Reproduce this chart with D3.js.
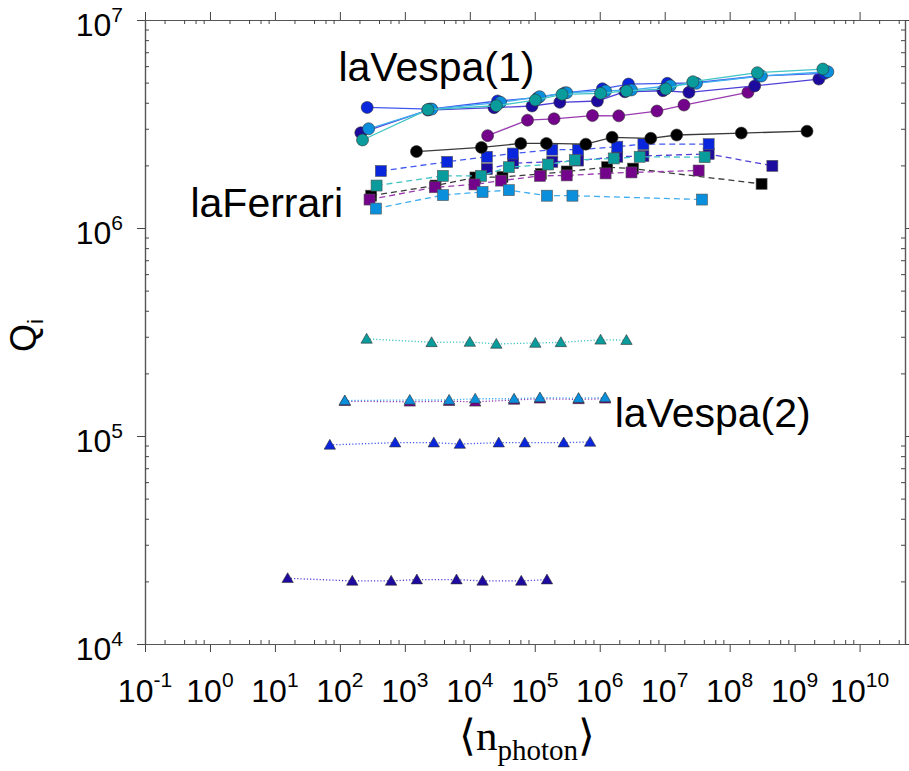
<!DOCTYPE html>
<html>
<head>
<meta charset="utf-8">
<script src="https://cdn.jsdelivr.net/npm/d3@7"></script>
<style>
  body { margin: 0; background: #fff; }
  svg text { font-family: "Liberation Sans", Arial, sans-serif; fill: #000; }
</style>
</head>
<body>
<div id="chart"></div>
<script>
// [<n_photon>, Q_i]
// laVespa(1) - circles, solid
const vespa1Black = [[1510, 2.33e6], [15100, 2.44e6], [60900, 2.55e6], [1.51e5, 2.55e6], [6.1e5, 2.53e6], [1.55e6, 2.73e6], [6.1e6, 2.7e6], [1.53e7, 2.8e6], [1.51e8, 2.86e6], [1.55e9, 2.92e6]];
const vespa1Purple = [[18800, 2.78e6], [77300, 3.3e6], [1.98e5, 3.35e6], [7.73e5, 3.47e6], [1.96e6, 3.46e6], [7.6e6, 3.65e6], [1.98e7, 3.9e6], [1.91e8, 4.49e6]];
const vespa1DarkBlue = [[210, 2.87e6], [2260, 3.69e6], [23600, 3.79e6], [90800, 3.86e6], [2.43e5, 4.02e6], [9.2e5, 4.08e6], [2.43e6, 4.52e6], [9.4e6, 4.57e6], [2.36e7, 4.49e6], [2.43e8, 4.82e6], [2.36e9, 5.2e6]];
const vespa1Blue = [[263, 3.8e6], [2430, 3.73e6], [26700, 4.08e6], [1.12e5, 4.23e6], [2.88e5, 4.46e6], [1.1e6, 4.67e6], [2.77e6, 4.92e6], [1.1e7, 4.96e6], [2.7e7, 4.98e6], [2.8e8, 5.38e6], [2.9e9, 5.54e6]];
const vespa1LightBlue = [[277, 3.0e6], [2600, 3.73e6], [29700, 4.02e6], [1.19e5, 4.28e6], [3.1e5, 4.47e6], [1.23e6, 4.56e6], [3.08e6, 4.61e6], [1.22e7, 4.83e6], [3.08e7, 4.96e6], [3.08e8, 5.38e6], [3.25e9, 5.64e6]];
const vespa1Teal = [[223, 2.65e6], [2260, 3.71e6], [25600, 3.87e6], [1.02e5, 4.12e6], [2.63e5, 4.39e6], [1.03e6, 4.44e6], [2.58e6, 4.56e6], [1.04e7, 4.66e6], [2.72e7, 5.05e6], [2.67e8, 5.58e6], [2.72e9, 5.81e6]];

// laFerrari - squares, dashed
const ferrariDarkBlue = [[18300, 1.92e6], [46400, 2.05e6], [1.86e5, 2.08e6], [4.64e5, 2.11e6], [1.86e6, 2.2e6], [4.7e6, 2.22e6], [4.75e7, 2.27e6], [4.54e8, 1.99e6]];
const ferrariBlack = [[303, 1.43e6], [2970, 1.6e6], [12200, 1.75e6], [31800, 1.76e6], [1.24e5, 1.82e6], [3.1e5, 1.87e6], [1.3e6, 1.96e6], [3.25e6, 1.93e6], [3.1e8, 1.63e6]];
const ferrariBlue = [[427, 1.88e6], [4480, 2.08e6], [18300, 2.2e6], [45900, 2.28e6], [1.86e5, 2.38e6], [4.64e5, 2.38e6], [1.86e6, 2.46e6], [4.7e6, 2.53e6], [4.75e7, 2.53e6]];
const ferrariTeal = [[367, 1.6e6], [3840, 1.78e6], [14900, 1.78e6], [39800, 1.96e6], [1.6e5, 2.02e6], [4.13e5, 2.12e6], [1.64e6, 2.16e6], [4.12e6, 2.2e6], [4.12e7, 2.19e6]];
const ferrariPurple = [[286, 1.37e6], [2890, 1.57e6], [11800, 1.62e6], [30300, 1.69e6], [1.2e5, 1.78e6], [3.1e5, 1.79e6], [1.23e6, 1.83e6], [3.08e6, 1.85e6], [3.33e7, 1.89e6]];
const ferrariLightBlue = [[358, 1.24e6], [3870, 1.44e6], [15700, 1.49e6], [39800, 1.52e6], [1.54e5, 1.43e6], [3.8e5, 1.43e6], [3.75e7, 1.37e6]];

// laVespa(2) - triangles, dotted
const vespa2Teal = [[258, 2.93e5], [2580, 2.82e5], [10000, 2.83e5], [25600, 2.77e5], [1.02e5, 2.8e5], [2.52e5, 2.82e5], [1.03e6, 2.9e5], [2.58e6, 2.89e5]];
const vespa2Purple = [[119, 1.47e5], [1190, 1.46e5], [4800, 1.47e5], [12100, 1.46e5], [48000, 1.49e5], [1.2e5, 1.51e5], [4.72e5, 1.5e5], [1.21e6, 1.51e5]];
const vespa2LightBlue = [[119, 1.48e5], [1190, 1.49e5], [4800, 1.49e5], [12100, 1.51e5], [48000, 1.51e5], [1.2e5, 1.53e5], [4.72e5, 1.52e5], [1.21e6, 1.53e5]];
const vespa2Blue = [[70, 9.06e4], [709, 9.29e4], [2790, 9.29e4], [7020, 9.15e4], [27900, 9.29e4], [70200, 9.29e4], [2.79e5, 9.29e4], [7.1e5, 9.36e4]];
const vespa2DarkBlue = [[15.7, 2.07e4], [155, 2.01e4], [615, 2.01e4], [1530, 2.04e4], [6240, 2.04e4], [15700, 2.01e4], [61900, 2.01e4], [1.54e5, 2.04e4]];

const xExponents = [-1, 0, 1, 2, 3, 4, 5, 6, 7, 8, 9, 10];
const yExponents = [4, 5, 6, 7];
const annotations = [
    { text: 'laVespa(1)', n: 95, q: 5.1e6, anchor: 'start' },
    { text: 'laFerrari', n: 112, q: 1.13e6, anchor: 'end' },
    { text: 'laVespa(2)', n: 1.7e6, q: 1.1e5, anchor: 'start' }
];

const colors = {
    black:     { fill: '#000000', line: '#3a3a3a' },
    purple:    { fill: '#74038c', line: '#9a3ab0' },
    darkblue:  { fill: '#1d0a9e', line: '#5040d8' },
    blue:      { fill: '#0a26dc', line: '#4058f0' },
    lightblue: { fill: '#0a8fdc', line: '#40aef0' },
    teal:      { fill: '#0a9c9c', line: '#40c4c4' }
};

// draw order matters, later ones sit on top
const series = [
    { data: vespa2Teal, color: 'teal', marker: 'triangle', dash: '1.2,2' },
    { data: vespa2Purple, color: 'purple', marker: 'triangle', dash: '1.2,2' },
    { data: vespa2LightBlue, color: 'lightblue', marker: 'triangle', dash: '1.2,2' },
    { data: vespa2Blue, color: 'blue', marker: 'triangle', dash: '1.2,2' },
    { data: vespa2DarkBlue, color: 'darkblue', marker: 'triangle', dash: '1.2,2' },
    { data: ferrariDarkBlue, color: 'darkblue', marker: 'square', dash: '6,4' },
    { data: ferrariBlack, color: 'black', marker: 'square', dash: '6,4' },
    { data: ferrariBlue, color: 'blue', marker: 'square', dash: '6,4' },
    { data: ferrariTeal, color: 'teal', marker: 'square', dash: '6,4' },
    { data: ferrariPurple, color: 'purple', marker: 'square', dash: '6,4' },
    { data: ferrariLightBlue, color: 'lightblue', marker: 'square', dash: '6,4' },
    { data: vespa1Black, color: 'black', marker: 'circle', dash: null },
    { data: vespa1Purple, color: 'purple', marker: 'circle', dash: null },
    { data: vespa1DarkBlue, color: 'darkblue', marker: 'circle', dash: null },
    { data: vespa1Blue, color: 'blue', marker: 'circle', dash: null },
    { data: vespa1LightBlue, color: 'lightblue', marker: 'circle', dash: null },
    { data: vespa1Teal, color: 'teal', marker: 'circle', dash: null }
];

const width = 909;
const height = 771;
const margin = { top: 20, right: 4, bottom: 127, left: 145 };
const plot = {
    left: margin.left,
    right: width - margin.right,
    top: margin.top,
    bottom: height - margin.bottom
};

const x = d3.scaleLog().domain([1e-1, 5e10]).range([plot.left, plot.right]);
const y = d3.scaleLog().domain([1e4, 1e7]).range([plot.bottom, plot.top]);

const xMajor = xExponents.map((e) => Math.pow(10, e));
const xMinor = [];
xExponents.forEach((e) => [2, 4, 6, 8].forEach((m) => {
    const v = m * Math.pow(10, e);
    if (v < x.domain()[1]) xMinor.push(v);
}));
const yMajor = yExponents.map((e) => Math.pow(10, e));
const yMinor = [];
yExponents.slice(0, -1).forEach((e) => [2, 3, 4, 5, 6, 7, 8, 9].forEach((m) => yMinor.push(m * Math.pow(10, e))));

const svg = d3.select('#chart')
    .append('svg')
    .attr('width', width)
    .attr('height', height);

function styleAxis(g) {
    g.selectAll('path.domain').attr('stroke', '#555').attr('stroke-width', 1.2);
    g.selectAll('.tick line').attr('stroke', '#444').attr('stroke-width', 1);
    g.selectAll('.tick text').remove();
}

// bottom / top: majors outward, minors inward
svg.append('g').attr('transform', `translate(0,${plot.bottom})`)
    .call(d3.axisBottom(x).tickValues(xMajor).tickSize(8).tickSizeOuter(0)).call(styleAxis);
svg.append('g').attr('transform', `translate(0,${plot.bottom})`)
    .call(d3.axisTop(x).tickValues(xMinor).tickSize(4).tickSizeOuter(0)).call(styleAxis);
svg.append('g').attr('transform', `translate(0,${plot.top})`)
    .call(d3.axisTop(x).tickValues(xMajor).tickSize(8).tickSizeOuter(0)).call(styleAxis);
svg.append('g').attr('transform', `translate(0,${plot.top})`)
    .call(d3.axisBottom(x).tickValues(xMinor).tickSize(4).tickSizeOuter(0)).call(styleAxis);

// left / right
svg.append('g').attr('transform', `translate(${plot.left},0)`)
    .call(d3.axisLeft(y).tickValues(yMajor).tickSize(8).tickSizeOuter(0)).call(styleAxis);
svg.append('g').attr('transform', `translate(${plot.left},0)`)
    .call(d3.axisRight(y).tickValues(yMinor).tickSize(4).tickSizeOuter(0)).call(styleAxis);
svg.append('g').attr('transform', `translate(${plot.right},0)`)
    .call(d3.axisRight(y).tickValues(yMajor).tickSize(6).tickSizeOuter(0)).call(styleAxis);
svg.append('g').attr('transform', `translate(${plot.right},0)`)
    .call(d3.axisLeft(y).tickValues(yMinor).tickSize(4).tickSizeOuter(0)).call(styleAxis);

// tick labels with superscripts
const xLabels = svg.append('g').selectAll('text')
    .data(xExponents)
    .join('text')
    .attr('x', (e) => x(Math.pow(10, e)))
    .attr('y', plot.bottom + 58)
    .attr('text-anchor', 'middle')
    .style('font-size', '32px');
xLabels.append('tspan').text('10');
xLabels.append('tspan').attr('dy', -15).style('font-size', '21px').text((e) => String(e));

const yLabels = svg.append('g').selectAll('text')
    .data(yExponents)
    .join('text')
    .attr('x', plot.left - 22)
    .attr('y', (e) => y(Math.pow(10, e)) + 16)
    .attr('text-anchor', 'end')
    .style('font-size', '32px');
yLabels.append('tspan').text('10');
yLabels.append('tspan').attr('dy', -14).style('font-size', '21px').text((e) => String(e));

// series
const line = d3.line().x((d) => x(d[0])).y((d) => y(d[1]));
const triangle = d3.symbol().type(d3.symbolTriangle).size(56);

series.forEach((s) => {
    const c = colors[s.color];
    const g = svg.append('g');
    g.append('path')
        .datum(s.data)
        .attr('d', line)
        .attr('fill', 'none')
        .attr('stroke', c.line)
        .attr('stroke-width', 1.3)
        .attr('stroke-dasharray', s.dash);

    const pts = g.selectAll('.pt').data(s.data);
    if (s.marker === 'circle') {
        pts.join('circle')
            .attr('cx', (d) => x(d[0]))
            .attr('cy', (d) => y(d[1]))
            .attr('r', 6)
            .attr('fill', c.fill)
            .attr('stroke', '#333')
            .attr('stroke-width', 0.6);
    } else if (s.marker === 'square') {
        pts.join('rect')
            .attr('x', (d) => x(d[0]) - 5.5)
            .attr('y', (d) => y(d[1]) - 5.5)
            .attr('width', 11)
            .attr('height', 11)
            .attr('fill', c.fill)
            .attr('stroke', '#555')
            .attr('stroke-width', 0.6);
    } else {
        pts.join('path')
            .attr('transform', (d) => `translate(${x(d[0])},${y(d[1]) + 1})`)
            .attr('d', triangle)
            .attr('fill', c.fill)
            .attr('stroke', '#333')
            .attr('stroke-width', 0.6);
    }
});

// group labels
svg.append('g').selectAll('text')
    .data(annotations)
    .join('text')
    .attr('x', (d) => x(d.n))
    .attr('y', (d) => y(d.q))
    .attr('text-anchor', (d) => d.anchor)
    .style('font-size', '41px')
    .text((d) => d.text);

// axis titles
const yTitle = svg.append('text')
    .attr('transform', 'translate(36,352) rotate(-90)')
    .style('font-size', '36px');
yTitle.append('tspan').text('Q');
yTitle.append('tspan').attr('dy', 7).style('font-size', '22px').text('i');

const xTitle = svg.append('text')
    .attr('x', 527)
    .attr('y', 750)
    .attr('text-anchor', 'middle')
    .style('font-family', '"Liberation Serif", "DejaVu Serif", serif')
    .style('font-size', '43px');
xTitle.append('tspan').style('font-family', '"Liberation Serif", serif').style('font-weight', '200').text('\u27E8');
xTitle.append('tspan').text('n');
xTitle.append('tspan').attr('dy', 10).style('font-size', '29px').text('photon');
xTitle.append('tspan').attr('dy', -10).style('font-family', '"Liberation Serif", serif').text('\u27E9');
</script>
</body>
</html>
